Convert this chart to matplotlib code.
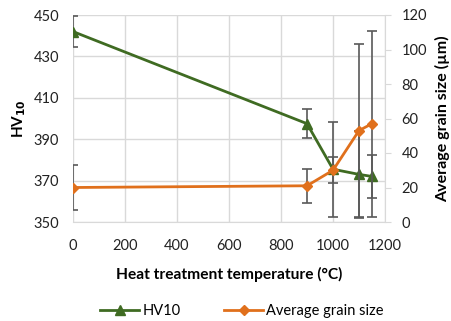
import matplotlib
matplotlib.use("Agg")
import matplotlib.pyplot as plt
from matplotlib.lines import Line2D

plt.rcParams['font.family'] = ['Lato', 'DejaVu Sans']

# data
temp = [0, 900, 1000, 1100, 1150]
hv10 = [442, 397.5, 375.5, 373, 372]
hv10_err = [7.5, 7, 23, 21, 10.5]
grain = [20, 21, 30, 53, 57]
grain_err = [13, 10, 7.5, 50, 54]

green = '#3f6b22'
orange = '#e0701c'
errc = '#595959'
gridc = '#d9d9d9'

fig = plt.figure(figsize=(4.52, 3.21), dpi=100)
ax = fig.add_axes([73/452, 1 - 222/321, (385-73)/452, (222-15)/321])
ax2 = ax.twinx()

ax.errorbar(temp, hv10, yerr=hv10_err, color=green, lw=2, marker='^', ms=7.5,
            ecolor=errc, elinewidth=1.2, capsize=3.5, capthick=1.2, zorder=3)
ax2.errorbar(temp, grain, yerr=grain_err, color=orange, lw=2, marker='D', ms=5.5,
             ecolor=errc, elinewidth=1.2, capsize=3.5, capthick=1.2, zorder=3)

ax.set_xlim(0, 1200)
ax.set_ylim(350, 450)
ax.set_yticks(range(350, 451, 20))
ax.set_xticks(range(0, 1201, 200))
ax2.set_ylim(0, 120)
ax2.set_yticks(range(0, 121, 20))

ax.grid(True, color=gridc, lw=1)
ax.set_axisbelow(True)
for a in (ax, ax2):
    for s in a.spines.values():
        s.set_visible(False)
ax.spines['bottom'].set_visible(True)
ax.spines['bottom'].set_color(gridc)
ax2.spines['right'].set_visible(True)
ax2.spines['right'].set_color(gridc)

ax.tick_params(axis='y', length=0, labelsize=10.5, colors='#222222', pad=10)
ax.tick_params(axis='x', length=0, labelsize=10.5, colors='#222222', pad=12)
ax2.tick_params(axis='y', length=4, color=gridc, labelsize=10.5, labelcolor='#222222', pad=8)

ax.set_ylabel('HV$_{\\mathbf{10}}$', fontsize=11, fontweight='bold', labelpad=4)
ax2.set_ylabel('Average grain size (µm)', fontsize=11.5, fontweight='bold', labelpad=6)
ax.set_xlabel('Heat treatment temperature (°C)', fontsize=11.2, fontweight='bold', labelpad=10)

handles = [Line2D([], [], color=green, lw=2, marker='^', ms=7.5),
           Line2D([], [], color=orange, lw=2, marker='D', ms=5.5)]
fig.legend(handles, ['HV10', 'Average grain size'], loc='center', bbox_to_anchor=(0.535, 1 - 311/321),
           ncol=2, frameon=False, fontsize=10.5, handlelength=2.7, columnspacing=3.0, handletextpad=0.2)

fig.savefig('out.png', dpi=100)
